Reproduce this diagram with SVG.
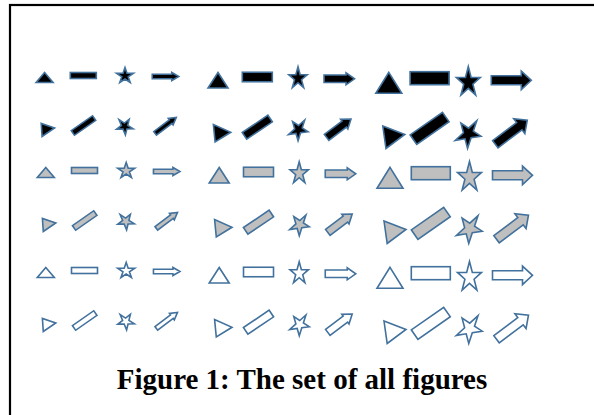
<svg xmlns="http://www.w3.org/2000/svg" width="594" height="415" viewBox="0 0 594 415">
<style>
.shapes{stroke:#41719C;stroke-width:1.6;stroke-linejoin:miter}
.black{fill:#000000}
.gray{fill:#BFBFBF}
.white{fill:#FFFFFF}
.caption{font-family:"Liberation Serif","Times New Roman",serif;font-weight:bold;font-size:29px;fill:#000000}
</style>
<defs>
<polygon id="tri-s" points="0,-5 8.5,5 -8.5,5"/>
<polygon id="tri-m" points="0,-7.75 10,7.75 -10,7.75"/>
<polygon id="tri-l" points="0,-10.5 13,10.5 -13,10.5"/>
<polygon id="rtri-s" points="-6.8,-6.6 -5.9,6.5 6.6,-2"/>
<polygon id="rtri-m" points="-8.7,-8.7 -7,8.7 8.7,-1"/>
<polygon id="rtri-l" points="-11,-10.5 -7.8,12 11,-2"/>
<rect id="rect-s" x="-13" y="-3" width="26" height="6"/>
<rect id="rect-m" x="-15" y="-4.75" width="30" height="9.5"/>
<rect id="rect-l" x="-19.5" y="-6.5" width="39" height="13"/>
<rect id="rrect-s" x="-13" y="-2.8" width="26" height="5.6"/>
<rect id="rrect-m" x="-15.5" y="-4" width="31" height="8"/>
<rect id="rrect-l" x="-19.75" y="-5.75" width="39.5" height="11.5"/>
<polygon id="star-s" points="0,-7.5 2,-1.76 8.46,-1.76 3.23,1.78 5.23,7.51 0,3.97 -5.23,7.51 -3.23,1.78 -8.46,-1.76 -2,-1.76"/>
<polygon id="star-m" points="0,-10.5 2.18,-2.48 9.22,-2.48 3.52,2.47 5.7,10.48 0,5.53 -5.7,10.48 -3.52,2.47 -9.22,-2.48 -2.18,-2.48"/>
<polygon id="star-l" points="0,-14.25 2.83,-3.37 11.98,-3.37 4.58,3.36 7.41,14.24 0,7.52 -7.41,14.24 -4.58,3.36 -11.98,-3.37 -2.83,-3.37"/>
<polygon id="arrow-s" points="-13.25,-2.25 6.25,-2.25 6.25,-4 13.25,0 6.25,4 6.25,2.25 -13.25,2.25"/>
<polygon id="arrow-m" points="-15.25,-3.75 6.75,-3.75 6.75,-6 15.25,0 6.75,6 6.75,3.75 -15.25,3.75"/>
<polygon id="arrow-l" points="-20,-4.5 10,-4.5 10,-9.25 20,0 10,9.25 10,4.5 -20,4.5"/>
</defs>
<rect x="10" y="5" width="600" height="420" fill="#FFFFFF" stroke="#000000" stroke-width="2.2"/>

<g id="black-figures" class="shapes black" transform="translate(-1.2,-95)">
<use id="black-small-triangle" href="#tri-s" transform="translate(45.8,172.5)"/>
<use id="black-small-rectangle" href="#rect-s" transform="translate(84.5,170.5)"/>
<use id="black-small-star" href="#star-s" transform="translate(126.2,170)"/>
<use id="black-small-arrow" href="#arrow-s" transform="translate(166.7,171.5)"/>
<use id="black-medium-triangle" href="#tri-m" transform="translate(219.2,175.3)"/>
<use id="black-medium-rectangle" href="#rect-m" transform="translate(258.5,172)"/>
<use id="black-medium-star" href="#star-m" transform="translate(299.2,172.2)"/>
<use id="black-medium-arrow" href="#arrow-m" transform="translate(340.5,173.8)"/>
<use id="black-large-triangle" href="#tri-l" transform="translate(390,177.8)"/>
<use id="black-large-rectangle" href="#rect-l" transform="translate(430.8,173.2)"/>
<use id="black-large-star" href="#star-l" transform="translate(469.5,175.8)"/>
<use id="black-large-arrow" href="#arrow-l" transform="translate(512.5,175.3)"/>
<use id="black-small-triangle-rot" href="#rtri-s" transform="translate(49.2,225)"/>
<use id="black-small-rectangle-rot" href="#rrect-s" transform="translate(84.7,220.5) rotate(-35)"/>
<use id="black-small-star-rot" href="#star-s" transform="translate(126.3,220.7) rotate(33)"/>
<use id="black-small-arrow-rot" href="#arrow-s" transform="translate(166.9,220.4) rotate(-37)"/>
<use id="black-medium-triangle-rot" href="#rtri-m" transform="translate(223.3,228.3)"/>
<use id="black-medium-rectangle-rot" href="#rrect-m" transform="translate(258.5,222.2) rotate(-34)"/>
<use id="black-medium-star-rot" href="#star-m" transform="translate(300.2,223.8) rotate(33)"/>
<use id="black-medium-arrow-rot" href="#arrow-m" transform="translate(340,223.2) rotate(-37)"/>
<use id="black-large-triangle-rot" href="#rtri-l" transform="translate(395,231.5)"/>
<use id="black-large-rectangle-rot" href="#rrect-l" transform="translate(430.8,223.3) rotate(-35)"/>
<use id="black-large-star-rot" href="#star-l" transform="translate(470.3,227.5) rotate(33)"/>
<use id="black-large-arrow-rot" href="#arrow-l" transform="translate(512.5,227.2) rotate(-37)"/>
</g>

<g id="gray-figures" class="shapes gray">
<use id="gray-small-triangle" href="#tri-s" transform="translate(45.8,172.5)"/>
<use id="gray-small-rectangle" href="#rect-s" transform="translate(84.5,170.5)"/>
<use id="gray-small-star" href="#star-s" transform="translate(126.2,170)"/>
<use id="gray-small-arrow" href="#arrow-s" transform="translate(166.7,171.5)"/>
<use id="gray-medium-triangle" href="#tri-m" transform="translate(219.2,175.3)"/>
<use id="gray-medium-rectangle" href="#rect-m" transform="translate(258.5,172)"/>
<use id="gray-medium-star" href="#star-m" transform="translate(299.2,172.2)"/>
<use id="gray-medium-arrow" href="#arrow-m" transform="translate(340.5,173.8)"/>
<use id="gray-large-triangle" href="#tri-l" transform="translate(390,177.8)"/>
<use id="gray-large-rectangle" href="#rect-l" transform="translate(430.8,173.2)"/>
<use id="gray-large-star" href="#star-l" transform="translate(469.5,175.8)"/>
<use id="gray-large-arrow" href="#arrow-l" transform="translate(512.5,175.3)"/>
<use id="gray-small-triangle-rot" href="#rtri-s" transform="translate(49.2,225)"/>
<use id="gray-small-rectangle-rot" href="#rrect-s" transform="translate(84.7,220.5) rotate(-35)"/>
<use id="gray-small-star-rot" href="#star-s" transform="translate(126.3,220.7) rotate(33)"/>
<use id="gray-small-arrow-rot" href="#arrow-s" transform="translate(166.9,220.4) rotate(-37)"/>
<use id="gray-medium-triangle-rot" href="#rtri-m" transform="translate(223.3,228.3)"/>
<use id="gray-medium-rectangle-rot" href="#rrect-m" transform="translate(258.5,222.2) rotate(-34)"/>
<use id="gray-medium-star-rot" href="#star-m" transform="translate(300.2,223.8) rotate(33)"/>
<use id="gray-medium-arrow-rot" href="#arrow-m" transform="translate(340,223.2) rotate(-37)"/>
<use id="gray-large-triangle-rot" href="#rtri-l" transform="translate(395,231.5)"/>
<use id="gray-large-rectangle-rot" href="#rrect-l" transform="translate(430.8,223.3) rotate(-35)"/>
<use id="gray-large-star-rot" href="#star-l" transform="translate(470.3,227.5) rotate(33)"/>
<use id="gray-large-arrow-rot" href="#arrow-l" transform="translate(512.5,227.2) rotate(-37)"/>
</g>

<g id="white-figures" class="shapes white" transform="translate(0,100)">
<use id="white-small-triangle" href="#tri-s" transform="translate(45.8,172.5)"/>
<use id="white-small-rectangle" href="#rect-s" transform="translate(84.5,170.5)"/>
<use id="white-small-star" href="#star-s" transform="translate(126.2,170)"/>
<use id="white-small-arrow" href="#arrow-s" transform="translate(166.7,171.5)"/>
<use id="white-medium-triangle" href="#tri-m" transform="translate(219.2,175.3)"/>
<use id="white-medium-rectangle" href="#rect-m" transform="translate(258.5,172)"/>
<use id="white-medium-star" href="#star-m" transform="translate(299.2,172.2)"/>
<use id="white-medium-arrow" href="#arrow-m" transform="translate(340.5,173.8)"/>
<use id="white-large-triangle" href="#tri-l" transform="translate(390,177.8)"/>
<use id="white-large-rectangle" href="#rect-l" transform="translate(430.8,173.2)"/>
<use id="white-large-star" href="#star-l" transform="translate(469.5,175.8)"/>
<use id="white-large-arrow" href="#arrow-l" transform="translate(512.5,175.3)"/>
<use id="white-small-triangle-rot" href="#rtri-s" transform="translate(49.2,225)"/>
<use id="white-small-rectangle-rot" href="#rrect-s" transform="translate(84.7,220.5) rotate(-35)"/>
<use id="white-small-star-rot" href="#star-s" transform="translate(126.3,220.7) rotate(33)"/>
<use id="white-small-arrow-rot" href="#arrow-s" transform="translate(166.9,220.4) rotate(-37)"/>
<use id="white-medium-triangle-rot" href="#rtri-m" transform="translate(223.3,228.3)"/>
<use id="white-medium-rectangle-rot" href="#rrect-m" transform="translate(258.5,222.2) rotate(-34)"/>
<use id="white-medium-star-rot" href="#star-m" transform="translate(300.2,223.8) rotate(33)"/>
<use id="white-medium-arrow-rot" href="#arrow-m" transform="translate(340,223.2) rotate(-37)"/>
<use id="white-large-triangle-rot" href="#rtri-l" transform="translate(395,231.5)"/>
<use id="white-large-rectangle-rot" href="#rrect-l" transform="translate(430.8,223.3) rotate(-35)"/>
<use id="white-large-star-rot" href="#star-l" transform="translate(470.3,227.5) rotate(33)"/>
<use id="white-large-arrow-rot" href="#arrow-l" transform="translate(512.5,227.2) rotate(-37)"/>
</g>

<text id="caption" class="caption" x="302" y="389" text-anchor="middle">Figure 1: The set of all figures</text>
</svg>
